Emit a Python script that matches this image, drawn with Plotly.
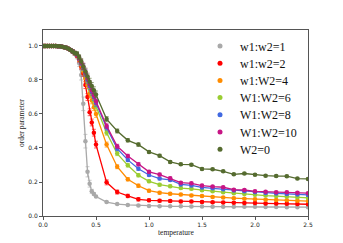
import plotly.graph_objects as go

temperature = [0.00, 0.02, 0.04, 0.06, 0.08, 0.10, 0.12, 0.14, 0.16, 0.18, 0.20, 0.22, 0.24, 0.26, 0.28, 0.30,
               0.32, 0.34, 0.36, 0.38, 0.40, 0.42, 0.44, 0.46, 0.48, 0.50,
               0.6, 0.7, 0.8, 0.9, 1.0, 1.1, 1.2, 1.3, 1.4, 1.5, 1.6, 1.7, 1.8, 1.9, 2.0, 2.1, 2.2, 2.3, 2.4, 2.5]

low_t = [1.0, 1.0, 1.0, 1.0, 1.0, 1.0, 1.0, 0.999, 0.998, 0.996, 0.993, 0.989, 0.984, 0.977, 0.968, 0.958]

w1w2_1 = low_t + [0.94, 0.90, 0.83, 0.66, 0.44, 0.26, 0.19, 0.145, 0.13, 0.115,
                  0.082, 0.070, 0.065, 0.062, 0.059, 0.058, 0.057, 0.057, 0.056, 0.056,
                  0.055, 0.055, 0.054, 0.054, 0.054, 0.053, 0.053, 0.052, 0.052, 0.052]
w1w2_2 = low_t + [0.945, 0.92, 0.88, 0.84, 0.77, 0.70, 0.61, 0.55, 0.49, 0.42,
                  0.198, 0.141, 0.118, 0.098, 0.092, 0.090, 0.088, 0.086, 0.085, 0.083,
                  0.081, 0.080, 0.078, 0.077, 0.076, 0.074, 0.073, 0.072, 0.070, 0.069]
w1w2_4 = low_t + [0.95, 0.925, 0.89, 0.855, 0.81, 0.77, 0.72, 0.68, 0.64, 0.60,
                  0.42, 0.29, 0.216, 0.178, 0.149, 0.137, 0.131, 0.126, 0.121, 0.117,
                  0.112, 0.109, 0.105, 0.102, 0.099, 0.096, 0.094, 0.092, 0.090, 0.088]
w1w2_6 = low_t + [0.95, 0.93, 0.90, 0.87, 0.83, 0.79, 0.75, 0.715, 0.68, 0.645,
                  0.49, 0.367, 0.298, 0.24, 0.204, 0.184, 0.175, 0.164, 0.160, 0.151,
                  0.146, 0.140, 0.134, 0.130, 0.125, 0.120, 0.117, 0.114, 0.110, 0.107]
w1w2_8 = low_t + [0.95, 0.93, 0.90, 0.875, 0.84, 0.80, 0.765, 0.73, 0.70, 0.665,
                  0.52, 0.396, 0.33, 0.278, 0.241, 0.220, 0.212, 0.186, 0.180, 0.168,
                  0.163, 0.158, 0.150, 0.145, 0.140, 0.136, 0.133, 0.130, 0.127, 0.124]
w1w2_10 = low_t + [0.95, 0.93, 0.905, 0.88, 0.845, 0.81, 0.775, 0.74, 0.71, 0.675,
                   0.53, 0.41, 0.353, 0.305, 0.260, 0.244, 0.222, 0.196, 0.192, 0.179,
                   0.173, 0.169, 0.155, 0.153, 0.145, 0.142, 0.140, 0.139, 0.137, 0.134]
w2_0 = low_t + [0.955, 0.935, 0.91, 0.88, 0.85, 0.82, 0.79, 0.765, 0.74, 0.715,
                0.57, 0.50, 0.445, 0.42, 0.377, 0.355, 0.318, 0.304, 0.302, 0.277,
                0.275, 0.263, 0.245, 0.250, 0.243, 0.237, 0.235, 0.234, 0.220, 0.218]

err_gray = [0.0] * 10 + [0.002, 0.003, 0.004, 0.006, 0.008, 0.01,
            0.015, 0.02, 0.03, 0.04, 0.04, 0.03, 0.02, 0.012, 0.008, 0.006,
            0.004, 0.003, 0.003, 0.003, 0.003, 0.003, 0.003, 0.003, 0.003, 0.003,
            0.003, 0.003, 0.003, 0.003, 0.003, 0.003, 0.003, 0.003, 0.003, 0.003]
err_other = [0.0] * 10 + [0.002, 0.003, 0.004, 0.006, 0.008, 0.01,
             0.012, 0.014, 0.016, 0.018, 0.02, 0.02, 0.02, 0.02, 0.02, 0.02,
             0.015, 0.012, 0.01, 0.01, 0.008, 0.008, 0.008, 0.007, 0.007, 0.007,
             0.006, 0.006, 0.006, 0.006, 0.006, 0.006, 0.006, 0.006, 0.006, 0.006]

labels = ["w1:w2=1", "w1:w2=2", "w1:W2=4", "W1:W2=6", "W1:W2=8", "W1:W2=10", "W2=0"]
series = [w1w2_1, w1w2_2, w1w2_4, w1w2_6, w1w2_8, w1w2_10, w2_0]
errors = [err_gray, err_other, err_other, err_other, err_other, err_other, err_other]
colors = ["#a9a9a9", "#ff0000", "#ff8c00", "#9acd32", "#4169e1", "#c71585", "#556b2f"]
err_colors = ["rgba(169,169,169,0.6)", "rgba(255,0,0,0.6)", "rgba(255,140,0,0.6)", "rgba(154,205,50,0.6)",
              "rgba(65,105,225,0.6)", "rgba(199,21,133,0.6)", "rgba(85,107,47,0.6)"]

L, R, T, B = 43, 35, 30, 27
W, H = 343, 243
plot_w = W - L - R
plot_h = H - T - B
row_px = [46, 63.2, 80.4, 97.6, 114.8, 132, 149.2]

fig = go.Figure()
for i, (lab, ys, er, c, ec) in enumerate(zip(labels, series, errors, colors, err_colors)):
    fig.add_trace(go.Scatter(
        x=temperature, y=ys, mode="lines+markers",
        line=dict(color=c, width=1.3),
        marker=dict(color=c, size=4.5),
        error_y=dict(type="data", array=er, color=ec, thickness=1, width=2),
        showlegend=False, hoverinfo="skip"))
    lname = "legend" if i == 0 else f"legend{i + 1}"
    fig.add_trace(go.Scatter(
        x=[None], y=[None], mode="markers", name=lab,
        marker=dict(color=c, size=5), legend=lname))

axis_common = dict(showgrid=False, zeroline=False, showline=True, mirror=True,
                   linecolor="#555555", linewidth=1, ticks="outside", ticklen=3,
                   tickcolor="#555555", tickwidth=0.8, automargin=False,
                   tickfont=dict(family="DejaVu Sans", size=6, color="#222"))

fig.update_layout(
    width=W, height=H, margin=dict(l=L, r=R, t=T, b=B, autoexpand=False),
    paper_bgcolor="white", plot_bgcolor="white",
    xaxis=dict(range=[0, 2.5], tickvals=[0, 0.5, 1.0, 1.5, 2.0, 2.5],
               ticktext=["0.0", "0.5", "1.0", "1.5", "2.0", "2.5"], **axis_common),
    yaxis=dict(range=[0, 1.094], tickvals=[0, 0.2, 0.4, 0.6, 0.8, 1.0],
               ticktext=["0.0", "0.2", "0.4", "0.6", "0.8", "1.0"], **axis_common),
    annotations=[
        dict(text="temperature", xref="paper", yref="paper", x=0.5, y=(H - B - 232) / plot_h,
             xanchor="center", yanchor="middle", showarrow=False,
             font=dict(family="Liberation Serif", size=7.5, color="#222")),
        dict(text="order parameter", xref="paper", yref="paper", x=(21 - L) / plot_w, y=0.5,
             xanchor="center", yanchor="middle", showarrow=False, textangle=-90,
             font=dict(family="Liberation Serif", size=7.5, color="#222")),
    ],
)

for i, py in enumerate(row_px):
    key = "legend" if i == 0 else f"legend{i + 1}"
    fig.update_layout(**{key: dict(
        x=(200 - L) / plot_w, xanchor="left",
        y=(H - B - py) / plot_h, yanchor="middle",
        bgcolor="rgba(0,0,0,0)", borderwidth=0,
        font=dict(family="Liberation Serif", size=12, color="#111"))})

fig.write_html("out.html", config={"displayModeBar": False},
               post_script="document.body.style.margin='0';document.body.style.overflow='hidden';")
